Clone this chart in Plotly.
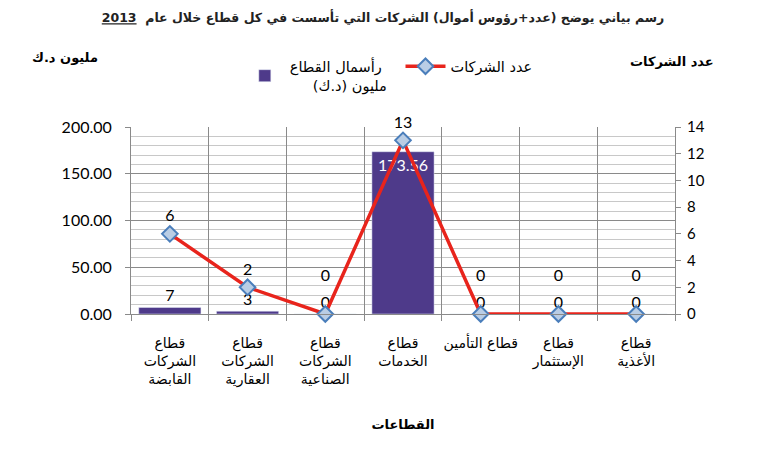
import plotly.graph_objects as go

sectors = [
    "قطاع<br>الشركات<br>القابضة",
    "قطاع<br>الشركات<br>العقارية",
    "قطاع<br>الشركات<br>الصناعية",
    "قطاع<br>الخدمات",
    "قطاع التأمين",
    "قطاع<br>الإستثمار",
    "قطاع<br>الأغذية",
]
capital = [7, 3, 0, 173.56, 0, 0, 0]
companies = [6, 2, 0, 13, 0, 0, 0]

capital_labels = ["7", "3", "0", "173.56", "0", "0", "0"]
label_pos = ["outside", "outside", "outside", "inside", "outside", "outside", "outside"]
label_color = ["black", "black", "black", "white", "black", "black", "black"]

# zero labels of the line sit higher than the zero labels of the bars
company_labels = [str(v) if v else "0<br>&nbsp;" for v in companies]

FONT = "Lato, DejaVu Sans, sans-serif"
AR = "DejaVu Sans"

fig = go.Figure()

fig.add_trace(go.Bar(
    x=sectors, y=capital,
    name="رأسمال القطاع&nbsp;&nbsp;&nbsp;<br>&nbsp;&nbsp;&nbsp;&nbsp;&nbsp;مليون (د.ك)",
    marker_color="#4E3A8A",
    width=0.8,
    text=capital_labels,
    textposition=label_pos,
    insidetextanchor="end",
    textfont=dict(size=16, color=label_color, family=FONT),
    outsidetextfont=dict(size=16, color="black", family=FONT),
    cliponaxis=False,
))

fig.add_trace(go.Scatter(
    x=sectors, y=companies,
    name="عدد الشركات",
    yaxis="y2",
    mode="lines+markers+text",
    line=dict(color="#E8241C", width=3.5),
    marker=dict(symbol="diamond", size=12, color="#B9CDE5",
                line=dict(color="#4A7EBB", width=2)),
    text=company_labels,
    textposition="top center",
    textfont=dict(size=16, color="black", family=FONT),
    cliponaxis=False,
))

# page has an 8px body margin, so the figure is drawn 8px smaller/shifted
fig.update_layout(
    width=750, height=430,
    margin=dict(l=123, r=83, t=119, b=124),
    paper_bgcolor="white", plot_bgcolor="white",
    font=dict(family=FONT, size=13, color="black"),
    showlegend=True,
    legend=dict(orientation="h", x=0.2, y=1.41, xanchor="left", yanchor="top",
                font=dict(size=14.5, family=AR), itemwidth=40,
                traceorder="normal", bgcolor="rgba(0,0,0,0)"),
    title=dict(
        text="<b>رسم بياني يوضح (عدد+رؤوس أموال) الشركات التي تأسست في كل قطاع خلال عام  <u>2013</u></b>",
        x=0.5, xanchor="center", y=0.977, yanchor="middle",
        font=dict(size=12.5, family=AR, color="#222"),
    ),
    xaxis=dict(
        type="category", tickson="boundaries", tickangle=0, automargin=False,
        showgrid=True, gridcolor="#8a8a8a", gridwidth=1,
        ticks="outside", ticklen=6, tickcolor="#8a8a8a",
        showline=True, linecolor="#8a8a8a",
        ticklabelstandoff=16,
        tickfont=dict(size=14, family=AR),
        title=dict(text="<b>القطاعات</b>", standoff=32,
                   font=dict(size=13, family=AR)),
    ),
    yaxis=dict(
        range=[0, 200], dtick=50, tickformat=".2f", automargin=False,
        showgrid=True, gridcolor="#8a8a8a", gridwidth=1,
        minor=dict(dtick=10, showgrid=True, gridcolor="#c8c8c8", gridwidth=1),
        ticks="outside", ticklen=5, tickcolor="#8a8a8a",
        showline=True, linecolor="#8a8a8a", zeroline=False,
        ticklabelstandoff=10,
        tickfont=dict(size=16),
    ),
    yaxis2=dict(
        overlaying="y", side="right", automargin=False,
        range=[0, 14], dtick=2,
        showgrid=False, zeroline=False,
        ticks="outside", ticklen=5, tickcolor="#8a8a8a",
        showline=True, linecolor="#8a8a8a",
        ticklabelstandoff=3,
        tickfont=dict(size=15),
    ),
    annotations=[
        dict(text="<b>مليون د.ك</b>", xref="paper", yref="paper",
             x=-0.057, y=1.37, xanchor="right", yanchor="middle", showarrow=False,
             font=dict(size=13, family=AR)),
        dict(text="<b>عدد الشركات</b>", xref="paper", yref="paper",
             x=0.994, y=1.348, xanchor="center", yanchor="middle", showarrow=False,
             font=dict(size=13, family=AR)),
    ],
)

fig.write_html("out.html")
